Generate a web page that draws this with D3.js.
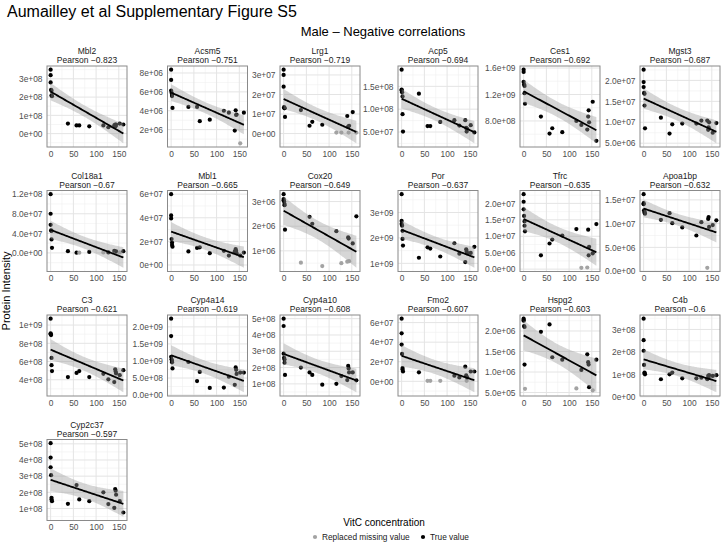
<!DOCTYPE html>
<html><head><meta charset="utf-8">
<script src="https://cdn.jsdelivr.net/npm/d3@7"></script>
<style>
body{margin:0;background:#fff;}
svg{display:block;font-family:"Liberation Sans",Arial,Helvetica,sans-serif;}
</style>
</head><body>
<svg id="chart" width="721" height="542"></svg>
<script>
// ---------------- data ----------------
const genes = ["Mbl2","Acsm5","Lrg1","Acp5","Ces1","Mgst3",
               "Col18a1","Mbl1","Cox20","Por","Tfrc","Apoa1bp",
               "C3","Cyp4a14","Cyp4a10","Fmo2","Hspg2","C4b","Cyp2c37"];
const pearson = [-0.823,-0.751,-0.719,-0.694,-0.692,-0.687,
                 -0.67,-0.665,-0.649,-0.637,-0.635,-0.632,
                 -0.621,-0.619,-0.608,-0.607,-0.603,-0.6,-0.597];
// VitC concentration of each sample (x)
const vitc = [0,0,0,1,2,2,3,38,57,63,85,116,127,140,142,143,144,152,160];

// protein intensity per gene, in the sample order of `vitc`
const yMbl2    = [3.5e8,3.2e8,2.8e8,2.4e8,2.35e8,2.1e8,2.05e8,0.55e8,0.45e8,0.45e8,0.4e8,0.45e8,0.35e8,0.45e8,0.5e8,0.4e8,0.5e8,0.55e8,0.5e8];
const yAcsm5   = [8.35e6,7.26e6,6.14e6,5.9e6,5.7e6,5.55e6,4.3e6,4.4e6,4.4e6,2.9e6,3.05e6,4.0e6,3.8e6,1.9e6,4.05e6,3.55e6,3.6e6,0.55e6,3.8e6];
const yLrg1    = [3.27e7,3.0e7,2.4e7,1.35e7,1.3e7,1.3e7,0.85e7,1.2e7,0.4e7,0.6e7,0.45e7,0.05e7,0.05e7,0.9e7,0.35e7,0.05e7,0.4e7,1.1e7,0.05e7];
const yAcp5    = [1.865e8,1.43e8,1.41e8,1.37e8,1.28e8,0.89e8,0.51e8,1.34e8,0.63e8,0.63e8,0.72e8,0.76e8,0.64e8,0.76e8,0.59e8,0.51e8,0.57e8,0.65e8,0.49e8];
const yCes1    = [1.575e9,1.54e9,1.39e9,1.35e9,1.33e9,1.22e9,1.06e9,8.66e8,6.1e8,6.9e8,6.3e8,8.0e8,7.4e8,6.7e8,8.66e8,9.6e8,7.8e8,10.9e8,5.0e8];
const yMgst3   = [2.256e7,1.96e7,1.84e7,1.70e7,1.68e7,1.40e7,0.856e7,1.11e7,0.73e7,0.95e7,0.97e7,0.97e7,1.04e7,1.04e7,0.82e7,0.88e7,1.0e7,0.75e7,0.98e7];
const yCol18a1 = [1.2e8,8.0e7,5.75e7,4.6e7,4.5e7,2.75e7,1.05e7,0.35e7,0.05e7,0.05e7,0.2e7,0.1e7,0.1e7,0.4e7,0.2e7,0.05e7,0.3e7,0.1e7,0.35e7];
const yMbl1    = [6.0e7,4.2e7,3.95e7,2.2e7,1.9e7,1.7e7,1.55e7,1.15e7,1.45e7,1.5e7,1.0e7,1.2e7,0.8e7,1.15e7,1.35e7,1.2e7,1.0e7,0.8e7,1.05e7];
const yCox20   = [3.3e6,3.1e6,3.05e6,3.0e6,2.9e6,2.85e6,1.86e6,0.52e6,2.38e6,2.1e6,0.38e6,1.8e6,0.5e6,0.56e6,1.55e6,1.5e6,0.58e6,1.3e6,2.4e6];
const yPor     = [3.72e9,2.67e9,2.55e9,2.48e9,2.28e9,1.96e9,1.7e9,1.22e9,1.63e9,1.58e9,1.27e9,1.79e9,1.38e9,1.05e9,1.55e9,1.47e9,1.4e9,1.41e9,1.65e9];
const yTfrc    = [2.28e7,2.05e7,1.82e7,1.62e7,1.45e7,1.32e7,1.15e7,0.42e7,0.78e7,0.9e7,1.02e7,1.22e7,0.04e7,0.05e7,1.2e7,0.42e7,0.68e7,0.48e7,1.37e7];
const yApoa1bp = [1.62e7,1.43e7,1.41e7,1.28e7,1.25e7,1.23e7,1.21e7,1.08e7,1.22e7,1.01e7,0.92e7,0.75e7,1.03e7,0.07e7,1.1e7,1.14e7,0.93e7,0.97e7,1.07e7];
const yC3      = [10.7e8,9.1e8,9.0e8,8.9e8,6.4e8,5.6e8,4.95e8,4.3e8,4.75e8,4.95e8,4.3e8,4.65e8,4.05e8,3.75e8,5.15e8,4.9e8,4.7e8,4.5e8,5.05e8];
const yCyp4a14 = [2.24e9,1.73e9,1.12e9,1.05e9,1.0e9,0.96e9,0.78e9,0.97e9,0.41e9,0.68e9,0.21e9,0.22e9,0.54e9,0.3e9,0.81e9,0.74e9,0.62e9,0.66e9,0.66e9];
const yCyp4a10 = [5.0e8,4.55e8,2.85e8,2.6e8,2.5e8,2.3e8,1.55e8,2.0e8,1.7e8,1.55e8,0.95e8,1.0e8,1.48e8,1.23e8,2.1e8,1.95e8,1.7e8,1.7e8,1.22e8];
const yFmo2    = [6.4e7,4.9e7,3.75e7,2.8e7,1.35e7,1.2e7,1.0e7,0.92e7,0.05e7,0.05e7,0.05e7,0.58e7,0.4e7,1.5e7,0.6e7,0.05e7,0.4e7,1.0e7,1.0e7];
const yHspg2   = [2.3e6,2.27e6,2.25e6,2.12e6,2.1e6,1.18e6,0.59e6,1.98e6,2.16e6,1.36e6,1.3e6,0.6e6,1.05e6,1.43e6,1.24e6,1.18e6,0.63e6,0.55e6,1.3e6];
const yC4b     = [3.48e8,2.52e8,2.05e8,1.42e8,1.08e8,1.04e8,1.0e8,0.78e8,1.0e8,1.08e8,0.82e8,0.82e8,0.85e8,0.78e8,0.93e8,0.85e8,0.96e8,0.93e8,0.96e8];
const yCyp2c37 = [5.04e8,4.15e8,3.55e8,3.06e8,1.66e8,1.55e8,1.45e8,1.29e8,2.45e8,1.56e8,1.45e8,2.0e8,1.27e8,1.04e8,2.2e8,2.1e8,1.85e8,1.45e8,0.75e8];

// indices (into `vitc`) of replaced missing values
const repAcsm5   = [17];
const repLrg1    = [11,12,15,18];
const repCol18a1 = [9,11,15,17];
const repCox20   = [7,10,12,13,16];
const repTfrc    = [12,13];
const repApoa1bp = [13];
const repFmo2    = [8,9,10,15];
const repHspg2   = [6,11,17];

// y tick labels per panel
const tkMbl2    = ["0e+00","1e+08","2e+08","3e+08"];
const tkAcsm5   = ["2e+06","4e+06","6e+06","8e+06"];
const tkLrg1    = ["0e+00","1e+07","2e+07","3e+07"];
const tkAcp5    = ["5.0e+07","1.0e+08","1.5e+08"];
const tkCes1    = ["8.0e+08","1.2e+09","1.6e+09"];
const tkMgst3   = ["5.0e+06","1.0e+07","1.5e+07","2.0e+07"];
const tkCol18a1 = ["0.0e+00","4.0e+07","8.0e+07","1.2e+08"];
const tkMbl1    = ["0e+00","2e+07","4e+07","6e+07"];
const tkCox20   = ["1e+06","2e+06","3e+06"];
const tkPor     = ["1e+09","2e+09","3e+09"];
const tkTfrc    = ["0.0e+00","5.0e+06","1.0e+07","1.5e+07","2.0e+07"];
const tkApoa1bp = ["0.0e+00","5.0e+06","1.0e+07","1.5e+07"];
const tkC3      = ["4e+08","6e+08","8e+08","1e+09"];
const tkCyp4a14 = ["0.0e+00","5.0e+08","1.0e+09","1.5e+09","2.0e+09"];
const tkCyp4a10 = ["1e+08","2e+08","3e+08","4e+08","5e+08"];
const tkFmo2    = ["0e+00","2e+07","4e+07","6e+07"];
const tkHspg2   = ["5.0e+05","1.0e+06","1.5e+06","2.0e+06"];
const tkC4b     = ["0e+00","1e+08","2e+08","3e+08"];
const tkCyp2c37 = ["1e+08","2e+08","3e+08","4e+08","5e+08"];

const xTicks = [0,50,100,150];
const legendLabels = ["Replaced missing value","True value"];

const panels = [
  [yMbl2,[],tkMbl2],[yAcsm5,repAcsm5,tkAcsm5],[yLrg1,repLrg1,tkLrg1],
  [yAcp5,[],tkAcp5],[yCes1,[],tkCes1],[yMgst3,[],tkMgst3],
  [yCol18a1,repCol18a1,tkCol18a1],[yMbl1,[],tkMbl1],[yCox20,repCox20,tkCox20],
  [yPor,[],tkPor],[yTfrc,repTfrc,tkTfrc],[yApoa1bp,repApoa1bp,tkApoa1bp],
  [yC3,[],tkC3],[yCyp4a14,[],tkCyp4a14],[yCyp4a10,[],tkCyp4a10],
  [yFmo2,repFmo2,tkFmo2],[yHspg2,repHspg2,tkHspg2],[yC4b,[],tkC4b],
  [yCyp2c37,[],tkCyp2c37]
].map((p,i)=>({gene:genes[i], r:pearson[i], y:p[0], rep:new Set(p[1]), ticks:p[2]}));

// ---------------- layout ----------------
const colLeft = [47,167.5,280,398,520,640];
const rowTop  = [66,190.5,315,439.5];
const PW = 80, PH = 81;
const COL_TRUE = "#000000", COL_REP = "#a3a3a3";

const svg = d3.select("#chart");
svg.append("rect").attr("width",721).attr("height",542).attr("fill","#fff");

svg.append("text").attr("x",7).attr("y",17).attr("font-size",16).attr("fill","#000")
  .text("Aumailley et al Supplementary Figure S5");
svg.append("text").attr("x",383).attr("y",36).attr("text-anchor","middle")
  .attr("font-size",13).attr("fill","#000").text("Male – Negative correlations");
svg.append("text").attr("transform","translate(10,291) rotate(-90)")
  .attr("text-anchor","middle").attr("font-size",11).attr("fill","#000")
  .text("Protein Intensity");

// t quantile (0.975) via Cornish-Fisher expansion
function tq(df){
  const z=1.959964, z3=z*z*z, z5=z3*z*z, z7=z5*z*z;
  return z + (z3+z)/(4*df) + (5*z5+16*z3+3*z)/(96*df*df)
    + (3*z7+19*z5+17*z3-15*z)/(384*df*df*df);
}

function fit(xs, ys){
  const n=xs.length, mx=d3.mean(xs), my=d3.mean(ys);
  let sxx=0, sxy=0;
  for(let i=0;i<n;i++){ sxx+=(xs[i]-mx)**2; sxy+=(xs[i]-mx)*(ys[i]-my); }
  const b=sxy/sxx, a=my-b*mx;
  let sse=0; for(let i=0;i<n;i++) sse+=(ys[i]-a-b*xs[i])**2;
  const s=Math.sqrt(sse/(n-2)), t=tq(n-2);
  const [x0,x1]=d3.extent(xs);
  return d3.range(80).map(k=>{
    const x=x0+(x1-x0)*k/79, yh=a+b*x;
    const se=s*Math.sqrt(1/n+(x-mx)**2/sxx);
    return {x, y:yh, lo:yh-t*se, hi:yh+t*se};
  });
}

function expand(ext){ const d=ext[1]-ext[0]; return [ext[0]-0.05*d, ext[1]+0.05*d]; }

panels.forEach((p,i)=>{
  const left=colLeft[i%6], top=rowTop[Math.floor(i/6)];
  const g=svg.append("g").attr("transform",`translate(${left},${top})`);
  const pts=vitc.map((x,j)=>({x, y:p.y[j], rep:p.rep.has(j)}));
  const sm=fit(vitc, p.y);

  const x=d3.scaleLinear().domain(expand(d3.extent(vitc))).range([0,PW]);
  const yExt=[Math.min(d3.min(p.y), d3.min(sm,d=>d.lo)), Math.max(d3.max(p.y), d3.max(sm,d=>d.hi))];
  const y=d3.scaleLinear().domain(expand(yExt)).range([PH,0]);

  const tv=p.ticks.map(Number);
  const step=tv[1]-tv[0];
  const yMinor=d3.range(-1,tv.length).map(k=>tv[0]+step*(k+0.5))
    .filter(v=>v>=y.domain()[0]&&v<=y.domain()[1]);
  const xMinor=[-25,25,75,125,175].filter(v=>v>=x.domain()[0]&&v<=x.domain()[1]);

  // grid
  g.selectAll(".ymn").data(yMinor).join("line").attr("x1",0).attr("x2",PW)
    .attr("y1",d=>y(d)).attr("y2",d=>y(d)).attr("stroke","#f0f0f0").attr("stroke-width",0.6);
  g.selectAll(".xmn").data(xMinor).join("line").attr("y1",0).attr("y2",PH)
    .attr("x1",d=>x(d)).attr("x2",d=>x(d)).attr("stroke","#f0f0f0").attr("stroke-width",0.6);
  g.selectAll(".ymj").data(tv).join("line").attr("x1",0).attr("x2",PW)
    .attr("y1",d=>y(d)).attr("y2",d=>y(d)).attr("stroke","#e4e4e4").attr("stroke-width",1);
  g.selectAll(".xmj").data(xTicks).join("line").attr("y1",0).attr("y2",PH)
    .attr("x1",d=>x(d)).attr("x2",d=>x(d)).attr("stroke","#e4e4e4").attr("stroke-width",1);

  // points
  g.append("g").selectAll("circle").data(pts).join("circle")
    .attr("cx",d=>x(d.x)).attr("cy",d=>y(d.y)).attr("r",2.1)
    .attr("fill",d=>d.rep?COL_REP:COL_TRUE);

  // smooth ribbon + line
  g.append("path").datum(sm)
    .attr("d",d3.area().x(d=>x(d.x)).y0(d=>y(d.lo)).y1(d=>y(d.hi)))
    .attr("fill","#999999").attr("fill-opacity",0.4);
  g.append("path").datum(sm)
    .attr("d",d3.line().x(d=>x(d.x)).y(d=>y(d.y)))
    .attr("fill","none").attr("stroke","#000").attr("stroke-width",1.8);

  // border
  g.append("rect").attr("width",PW).attr("height",PH).attr("fill","none")
    .attr("stroke","#8a8a8a").attr("stroke-width",1);

  // axes labels
  const yAxis=d3.axisLeft(y).tickValues(tv).tickFormat((d,k)=>p.ticks[k]).tickSize(0).tickPadding(4.5);
  const ya=g.append("g").call(yAxis);
  ya.select(".domain").remove();
  ya.selectAll("text").attr("font-size",8.4).attr("fill","#4d4d4d").attr("font-family",null);

  const xAxis=d3.axisBottom(x).tickValues(xTicks).tickFormat(d3.format("d")).tickSize(0).tickPadding(4);
  const xa=g.append("g").attr("transform",`translate(0,${PH})`).call(xAxis);
  xa.select(".domain").remove();
  xa.selectAll("text").attr("font-size",8.4).attr("fill","#4d4d4d").attr("font-family",null);

  // strip
  g.append("text").attr("x",PW/2).attr("y",-12).attr("text-anchor","middle")
    .attr("font-size",8.5).attr("fill","#1a1a1a").text(p.gene);
  g.append("text").attr("x",PW/2).attr("y",-3).attr("text-anchor","middle")
    .attr("font-size",8.5).attr("fill","#1a1a1a")
    .text("Pearson " + String(p.r).replace("-","\u2212"));
});

// legend
svg.append("text").attr("x",384).attr("y",526).attr("text-anchor","middle")
  .attr("font-size",10).attr("fill","#000").text("VitC concentration");
const lg=[{c:COL_REP,x:315},{c:COL_TRUE,x:423}];
lg.forEach((d,k)=>{
  svg.append("circle").attr("cx",d.x).attr("cy",537).attr("r",2.1).attr("fill",d.c);
  svg.append("text").attr("x",d.x+7).attr("y",540).attr("font-size",8.3)
    .attr("fill","#1a1a1a").text(legendLabels[k]);
});
</script>
</body></html>
